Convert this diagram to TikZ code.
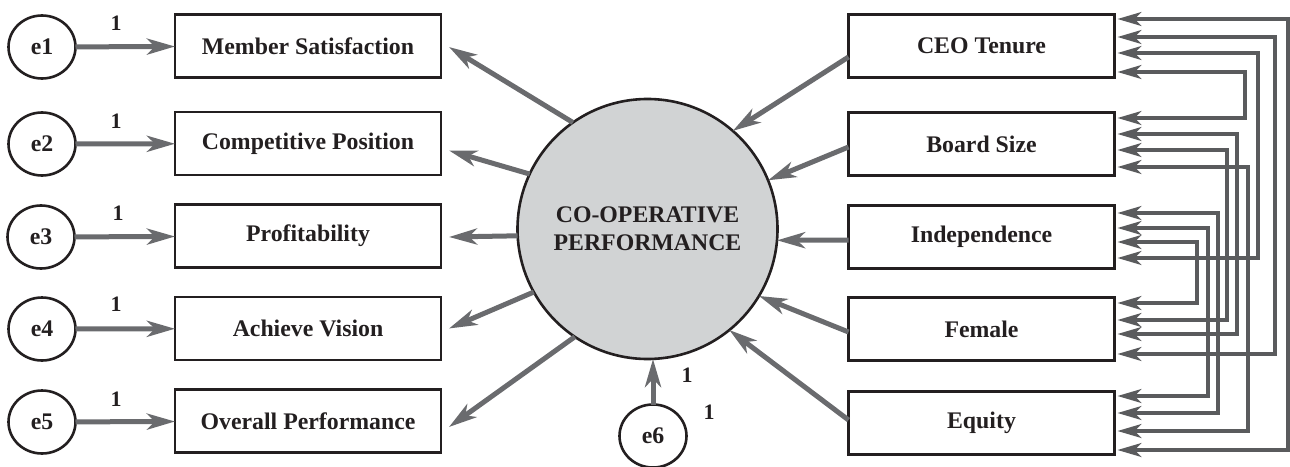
\documentclass[tikz,border=0pt]{standalone}
\usepackage{fontspec}
\setmainfont{Liberation Serif}
\usetikzlibrary{arrows.meta,calc,shapes.geometric}
\definecolor{arrgray}{HTML}{6A6B6E}
\definecolor{covgray}{HTML}{5A5B5D}
\definecolor{fillgray}{HTML}{D1D3D4}
\definecolor{ink}{HTML}{231F20}
\begin{document}
\begin{tikzpicture}[x=1pt,y=-1pt,
  every node/.style={outer sep=0pt, inner sep=0pt, text=ink,
    font=\bfseries\fontsize{23.8}{28}\selectfont},
  obs/.style={draw=ink, line width=2.6pt, rectangle, minimum width=266pt, minimum height=63pt},
  err/.style={draw=ink, line width=2.6pt, ellipse, minimum width=67pt, minimum height=63pt},
  lat/.style={draw=ink, line width=2.6pt, circle, fill=fillgray, minimum size=260pt, align=center},
  arr/.style={draw=arrgray, line width=5pt, -{Stealth[length=28pt,width=16pt,inset=8pt]}},
  cov/.style={draw=covgray, line width=3.1pt,
    {Stealth[length=24pt,width=14pt,inset=7pt]}-{Stealth[length=24pt,width=14pt,inset=7pt]}},
  one/.style={font=\bfseries\fontsize{22}{24}\selectfont}
]
\useasboundingbox (0,0) rectangle (1290,466);

% error terms
\node[err] (e1) at (42,47) {e1};
\node[err] (e2) at (42,144) {e2};
\node[err] (e3) at (41,237) {e3};
\node[err] (e4) at (42,329) {e4};
\node[err] (e5) at (42,422) {e5};

% observed outcomes
\node[obs] (ms) at (308,46) {Member Satisfaction};
\node[obs] (cp) at (308,143.5) {Competitive Position};
\node[obs] (pr) at (308,236) {Profitability};
\node[obs] (av) at (308,328.5) {Achieve Vision};
\node[obs] (op) at (308,421) {Overall Performance};

% predictors
\node[obs] (ceo) at (981.5,46) {CEO Tenure};
\node[obs] (bs) at (981.5,144) {Board Size};
\node[obs] (ind) at (981.5,237) {Independence};
\node[obs] (fem) at (981.5,329) {Female};
\node[obs] (eq) at (981.5,423) {Equity};

% latent
\node[lat] (perf) at (647.5,229) {CO-OPERATIVE\\PERFORMANCE};
\node[err] (e6) at (653,436) {e6};

% labels
\node[one] (w1) at (116,23) {1};
\node[one] (w2) at (116,121) {1};
\node[one] (w3) at (118,213) {1};
\node[one] (w4) at (116,304) {1};
\node[one] (w5) at (116,399) {1};
\node[one] (w6) at (687,375) {1};
\node[one] (w7) at (709,412) {1};

% error arrows
\draw[arr] (e1) -- (ms);
\draw[arr] (e2) -- (cp);
\draw[arr] (e3) -- (pr);
\draw[arr] (e4) -- (av);
\draw[arr] (e5) -- (op);
\draw[arr] (e6.north) -- (e6.north |- perf.south);

% latent -> outcomes
\draw[arr] (perf.125.2) -- ($(ms.east)+(8,1)$);
\draw[arr] (perf.155.1) -- ($(cp.east)+(8,7)$);
\draw[arr] (perf.183.1) -- ($(pr.east)+(8,1)$);
\draw[arr] (perf.209.2) -- ($(av.east)+(8,0)$);
\draw[arr] (perf.236.9) -- ($(op.east)+(8,6)$);

% predictors -> latent
\draw[arr] ($(ceo.west)+(0,11)$) -- (perf.49.1);
\draw[arr] ($(bs.west)+(0,3)$) -- (perf.22.8);
\draw[arr] ($(ind.west)+(0,3)$) -- (perf.355.3);
\draw[arr] ($(fem.west)+(0,3)$) -- (perf.329.9);
\draw[arr] ($(eq.west)+(0,-3)$) -- (perf.309.8);

% covariance columns
\coordinate (c1) at (1288,0);
\coordinate (c2) at (1275,0);
\coordinate (c3) at (1258,0);
\coordinate (c4) at (1245,0);
\coordinate (c5) at (1237,0);
\coordinate (c6) at (1227,0);
\coordinate (c7) at (1248,0);
\coordinate (c8) at (1218,0);
\coordinate (c9) at (1208,0);
\coordinate (c10) at (1197,0);

\path ($(ceo.east)+(3,-27)$) coordinate (s1) ($(eq.east)+(3,27)$) coordinate (t1);
\path ($(ceo.east)+(3,-9)$) coordinate (s2) ($(fem.east)+(3,25)$) coordinate (t2);
\path ($(ceo.east)+(3,7)$) coordinate (s3) ($(ind.east)+(3,21)$) coordinate (t3);
\path ($(ceo.east)+(3,26)$) coordinate (s4) ($(bs.east)+(3,-26)$) coordinate (t4);
\path ($(bs.east)+(3,-10)$) coordinate (s5) ($(fem.east)+(3,5)$) coordinate (t5);
\path ($(bs.east)+(3,6)$) coordinate (s6) ($(fem.east)+(3,-9)$) coordinate (t6);
\path ($(bs.east)+(3,23)$) coordinate (s7) ($(eq.east)+(3,8)$) coordinate (t7);
\path ($(ind.east)+(3,-24)$) coordinate (s8) ($(eq.east)+(3,-10)$) coordinate (t8);
\path ($(ind.east)+(3,-9)$) coordinate (s9) ($(eq.east)+(3,-27)$) coordinate (t9);
\path ($(ind.east)+(3,5)$) coordinate (s10) ($(fem.east)+(3,-26)$) coordinate (t10);

\foreach \i in {1,...,10}{
  \draw[cov] (s\i) -- (s\i -| c\i) |- (t\i);
}
\end{tikzpicture}
\end{document}
